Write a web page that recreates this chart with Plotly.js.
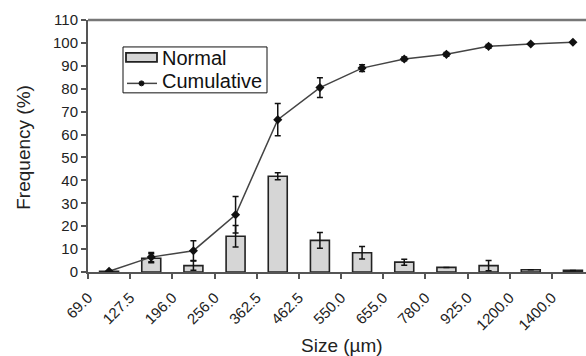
<!DOCTYPE html>
<html><head><meta charset="utf-8">
<script src="https://cdn.plot.ly/plotly-3.0.1.min.js"></script>
<style>html,body{margin:0;padding:0;background:#fff;overflow:hidden}#wrap{width:586px;height:356px;overflow:hidden}#chart{width:594px;height:356px}</style>
</head><body><div id="wrap"><div id="chart"></div></div>
<script>
var tickLabels = ["69.0","127.5","196.0","256.0","362.5","462.5","550.0","655.0","780.0","925.0","1200.0","1400.0"];
var binIndex = [0,1,2,3,4,5,6,7,8,9,10,11];
var normalVals = [0.3, 6.0, 2.8, 15.6, 41.8, 13.8, 8.4, 4.3, 2.0, 2.8, 1.0, 0.7];
var normalErr  = [0, 2.0, 2.0, 4.7, 1.5, 3.4, 2.7, 1.3, 0, 2.2, 0, 0];
var cumVals = [0.3, 6.5, 9.3, 25.0, 66.5, 80.5, 89.0, 93.0, 95.0, 98.5, 99.5, 100.3];
var cumErr  = [0, 2.0, 4.3, 8.0, 7.0, 4.3, 1.5, 0.8, 0.8, 0.8, 0, 0];
var legendNames = ["Normal", "Cumulative"];
var xTitle = "Size (µm)";
var yTitle = "Frequency (%)";

var tickPos = binIndex.map(function(i){return i-0.5;});
var font = "Liberation Sans, Arial, sans-serif";

var traces = [
  {type:"bar", name:legendNames[0], x:binIndex, y:normalVals, width:0.45,
   marker:{color:"#d6d6d6", line:{color:"#222", width:1.6}},
   error_y:{type:"data", array:normalErr, visible:true, color:"#111", thickness:1.5, width:3}},
  {type:"scatter", mode:"lines+markers", name:legendNames[1], x:binIndex, y:cumVals,
   line:{color:"#444", width:1.5}, marker:{color:"#111", size:7, symbol:"diamond"},
   error_y:{type:"data", array:cumErr, visible:true, color:"#111", thickness:1.5, width:3}}
];

// pixel -> paper helpers for the hand-drawn legend
var L = 88, W = 506, T = 20, H = 252.5;
function px(x){return (x-L)/W;}
function py(y){return (T+H-y)/H;}

var layout = {
  width:594, height:356,
  margin:{l:L, r:0, t:T, b:356-T-H},
  paper_bgcolor:"#fff", plot_bgcolor:"#fff",
  font:{family:font, color:"#222", size:15},
  showlegend:false,
  bargap:0,
  xaxis:{range:[-0.5, 11.5], tickmode:"array", tickvals:tickPos, ticktext:tickLabels,
         tickangle:-45, ticks:"outside", ticklen:5, tickwidth:2, tickcolor:"#555",
         ticklabelstandoff:4,
         showline:true, linecolor:"#555", linewidth:2, showgrid:false, zeroline:false,
         tickfont:{size:15, color:"#222"}},
  yaxis:{range:[0,110], dtick:10, ticks:"outside", ticklen:5, tickwidth:2, tickcolor:"#555",
         showline:true, linecolor:"#555", linewidth:2, showgrid:false, zeroline:false,
         tickfont:{size:15, color:"#222"}},
  shapes:[
    {type:"line", xref:"paper", yref:"paper", x0:0, x1:1, y0:1, y1:1, line:{color:"#777", width:2.5}},
    {type:"rect", xref:"paper", yref:"paper", x0:px(123), x1:px(267), y0:py(93), y1:py(47),
     line:{color:"#111", width:1}, fillcolor:"#fff"},
    {type:"rect", xref:"paper", yref:"paper", x0:px(126), x1:px(157), y0:py(62), y1:py(53),
     line:{color:"#222", width:1.8}, fillcolor:"#d6d6d6"},
    {type:"line", xref:"paper", yref:"paper", x0:px(127), x1:px(157), y0:py(83.5), y1:py(83.5),
     line:{color:"#444", width:1.5}},
    {type:"circle", xref:"paper", yref:"paper", x0:px(139), x1:px(144), y0:py(86), y1:py(81),
     line:{color:"#111", width:1}, fillcolor:"#111"}
  ],
  annotations:[
    {xref:"paper", yref:"paper", x:px(160), y:py(58), xanchor:"left", yanchor:"middle",
     text:legendNames[0], showarrow:false, font:{size:20, color:"#111"}},
    {xref:"paper", yref:"paper", x:px(160), y:py(81), xanchor:"left", yanchor:"middle",
     text:legendNames[1], showarrow:false, font:{size:20, color:"#111"}},
    {xref:"paper", yref:"paper", x:px(342), y:py(346), xanchor:"center", yanchor:"middle",
     text:xTitle, showarrow:false, font:{size:19, color:"#222"}},
    {xref:"paper", yref:"paper", x:px(24), y:py(148), xanchor:"center", yanchor:"middle",
     text:yTitle, textangle:-90, showarrow:false, font:{size:19, color:"#222"}}
  ]
};
Plotly.newPlot("chart", traces, layout, {displayModeBar:false, staticPlot:true});
</script></body></html>
